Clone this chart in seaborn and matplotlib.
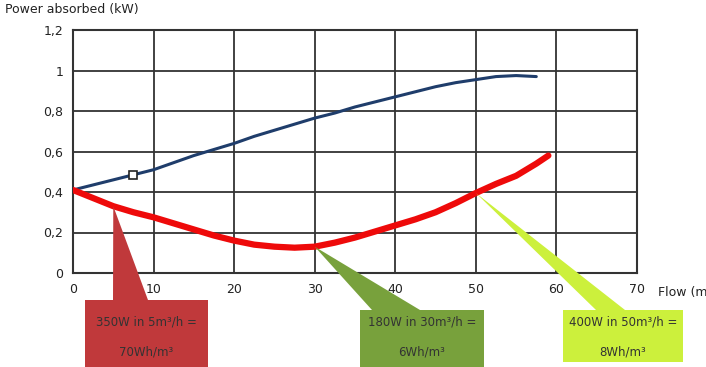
import numpy as np
import pandas as pd
import matplotlib
matplotlib.use("Agg")
import matplotlib.pyplot as plt
import seaborn as sns
from matplotlib.patches import Polygon, Rectangle

# curves
flow_blue = [0, 2.5, 5, 7.5, 10, 12.5, 15, 17.5, 20, 22.5, 25, 27.5, 30, 32.5,
             35, 37.5, 40, 42.5, 45, 47.5, 50, 52.5, 55, 57.5]
power_blue = [0.41, 0.435, 0.46, 0.485, 0.51, 0.545, 0.58, 0.61, 0.64, 0.675,
              0.705, 0.735, 0.765, 0.79, 0.82, 0.845, 0.87, 0.895, 0.92, 0.94,
              0.955, 0.97, 0.975, 0.97]

flow_red = [0, 2.5, 5, 7.5, 10, 12.5, 15, 17.5, 20, 22.5, 25, 27.5, 30, 32.5,
            35, 37.5, 40, 42.5, 45, 47.5, 50, 52.5, 55, 57.5, 59]
power_red = [0.41, 0.37, 0.33, 0.30, 0.275, 0.245, 0.215, 0.185, 0.16, 0.14,
             0.13, 0.125, 0.13, 0.15, 0.175, 0.205, 0.235, 0.265, 0.30, 0.345,
             0.395, 0.44, 0.48, 0.54, 0.58]

marker_x = [7.5]
marker_y = [0.485]

x_ticks = [0, 10, 20, 30, 40, 50, 60, 70]
y_ticks = [0, 0.2, 0.4, 0.6, 0.8, 1.0, 1.2]
y_tick_labels = ["0", "0,2", "0,4", "0,6", "0,8", "1", "1,2"]

callout_x = [5, 30, 50]
callout_y = [0.33, 0.13, 0.395]
callout_line1 = ["350W in 5m³/h =", "180W in 30m³/h =", "400W in 50m³/h ="]
callout_line2 = ["70Wh/m³", "6Wh/m³", "8Wh/m³"]
callout_colors = ["#c0393b", "#78a13c", "#ccf03c"]

df_blue = pd.DataFrame({"flow": flow_blue, "power": power_blue})
df_red = pd.DataFrame({"flow": flow_red, "power": power_red})

sns.set_style("white")
plt.rcParams["font.family"] = ["DejaVu Sans"]

W, H = 706, 367
fig = plt.figure(figsize=(W / 100, H / 100), dpi=100)
ax = fig.add_axes([73 / W, 1 - 273 / H, (637 - 73) / W, (273 - 30) / H])

sns.lineplot(data=df_blue, x="flow", y="power", ax=ax, color="#1f3d6b",
             linewidth=2.2, sort=False, zorder=3)
sns.lineplot(data=df_red, x="flow", y="power", ax=ax, color="#ee0a0a",
             linewidth=4.5, sort=False, zorder=4)
ax.plot(marker_x, marker_y, marker="s", markersize=6, markerfacecolor="white",
        markeredgecolor="#222222", markeredgewidth=1.2, linestyle="none", zorder=5)

ax.set_xlim(0, 70)
ax.set_ylim(0, 1.2)
ax.set_xticks(x_ticks)
ax.set_yticks(y_ticks)
ax.set_yticklabels(y_tick_labels)
ax.grid(True, color="#333333", linewidth=1.3)
for s in ax.spines.values():
    s.set_color("#333333")
    s.set_linewidth(1.5)
ax.tick_params(axis="both", length=0, labelsize=9, colors="#222222", pad=7)
ax.set_xlabel("")
ax.set_ylabel("")

fig.text(5 / W, 1 - 10 / H, "Power absorbed (kW)", fontsize=9, color="#222222",
         va="center", ha="left")
fig.text(658 / W, 1 - 292 / H, "Flow (m³/h)", fontsize=9, color="#222222",
         va="center", ha="left")

# callout boxes (pixel layout)
box_left = [85, 360, 563]
box_right = [208, 484, 683]
box_top = [300, 310, 310]
box_bottom = [367, 367, 362]
base_left = [113, 372, 596]
base_right = [148, 420, 625]

fig.canvas.draw()
to_fig = fig.transFigure.inverted()
for i in range(3):
    tip = ax.transData.transform((callout_x[i], callout_y[i]))
    tx, ty = to_fig.transform(tip)
    yt = 1 - box_top[i] / H
    tri = Polygon([(tx, ty), (base_left[i] / W, yt), (base_right[i] / W, yt)],
                  closed=True, transform=fig.transFigure,
                  facecolor=callout_colors[i], edgecolor="none", zorder=10)
    fig.patches.append(tri)
    rect = Rectangle((box_left[i] / W, 1 - box_bottom[i] / H),
                     (box_right[i] - box_left[i]) / W,
                     (box_bottom[i] - box_top[i]) / H,
                     transform=fig.transFigure, facecolor=callout_colors[i],
                     edgecolor="none", zorder=10)
    fig.patches.append(rect)
    cx = (box_left[i] + box_right[i]) / 2 / W
    fig.text(cx, 1 - 322 / H, callout_line1[i], ha="center", va="center",
             fontsize=8.5, color="#333333", zorder=11)
    fig.text(cx, 1 - 352 / H, callout_line2[i], ha="center", va="center",
             fontsize=8.5, color="#333333", zorder=11)

fig.savefig("out.png", dpi=100)
